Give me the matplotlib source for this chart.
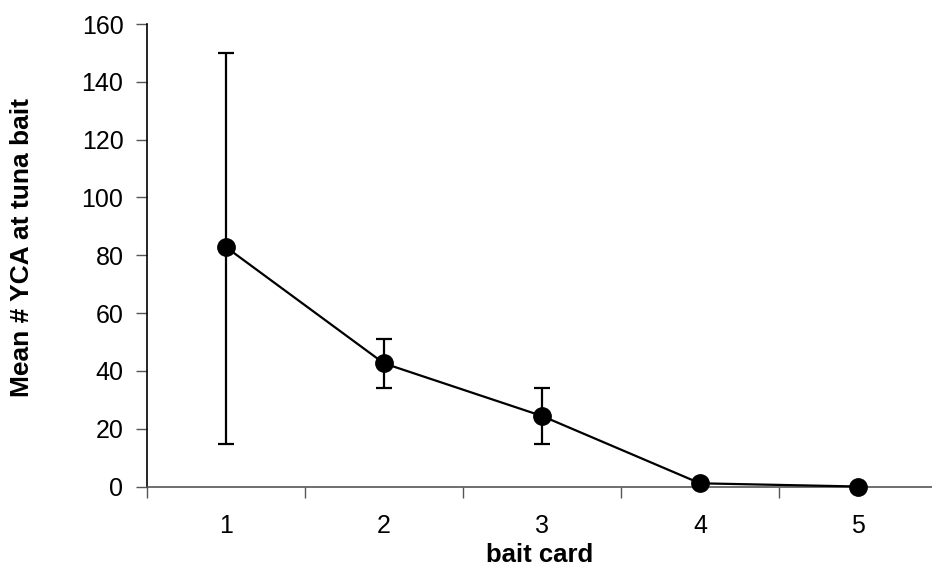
import matplotlib.pyplot as plt

plt.rcParams['font.family'] = ['Liberation Sans', 'DejaVu Sans']

# data
cards = [1, 2, 3, 4, 5]
mean_yca = [82.8, 42.6, 24.4, 1.1, 0.0]
err_low = [14.7, 34.0, 14.7, 1.1, 0.0]
err_high = [150.0, 51.0, 34.0, 1.1, 0.0]
yticks = [0, 20, 40, 60, 80, 100, 120, 140, 160]

W, H = 932, 573
fig = plt.figure(figsize=(W / 100, H / 100), dpi=100)
# plot area in pixels: left 147, right 937, top 24, bottom 486.5
ax = fig.add_axes([147 / W, 1 - 486.5 / H, (937 - 147) / W, (486.5 - 24) / H])

yerr = [[m - lo for m, lo in zip(mean_yca, err_low)],
        [hi - m for m, hi in zip(mean_yca, err_high)]]
ax.errorbar(cards, mean_yca, yerr=yerr, fmt='none', ecolor='black',
            elinewidth=1.6, capsize=6, capthick=1.6, zorder=2)
ax.plot(cards, mean_yca, color='black', lw=1.6, marker='o', ms=12.5,
        mfc='black', mec='black', zorder=3, clip_on=False)

ax.set_xlim(0.5, 5.5)
ax.set_ylim(0, 160)
ax.set_yticks(yticks)

# tick marks between categories, labels at centres
ax.set_xticks([0.5, 1.5, 2.5, 3.5, 4.5, 5.5])
ax.set_xticklabels([])
ax.set_xticks(cards, [str(c) for c in cards], minor=True)
ax.tick_params(axis='x', which='minor', length=0, pad=20, labelsize=18)
ax.tick_params(axis='x', which='major', length=8, width=1, color='#555555',
               direction='out')
ax.tick_params(axis='y', length=8, width=1, color='#555555', direction='out',
               labelsize=18, pad=9)

for side in ['top', 'right']:
    ax.spines[side].set_visible(False)
ax.spines['left'].set_color('black')
ax.spines['left'].set_linewidth(1.2)
ax.spines['bottom'].set_color('#555555')
ax.spines['bottom'].set_linewidth(1.2)

ax.set_xlabel('bait card', fontsize=18.5, fontweight='bold', va='center')
ax.xaxis.set_label_coords(0.4975, -0.148)
ax.set_ylabel('Mean # YCA at tuna bait', fontsize=19, fontweight='bold',
              va='center')
ax.yaxis.set_label_coords(-0.158, 0.517)

fig.savefig('out.png', dpi=100)
